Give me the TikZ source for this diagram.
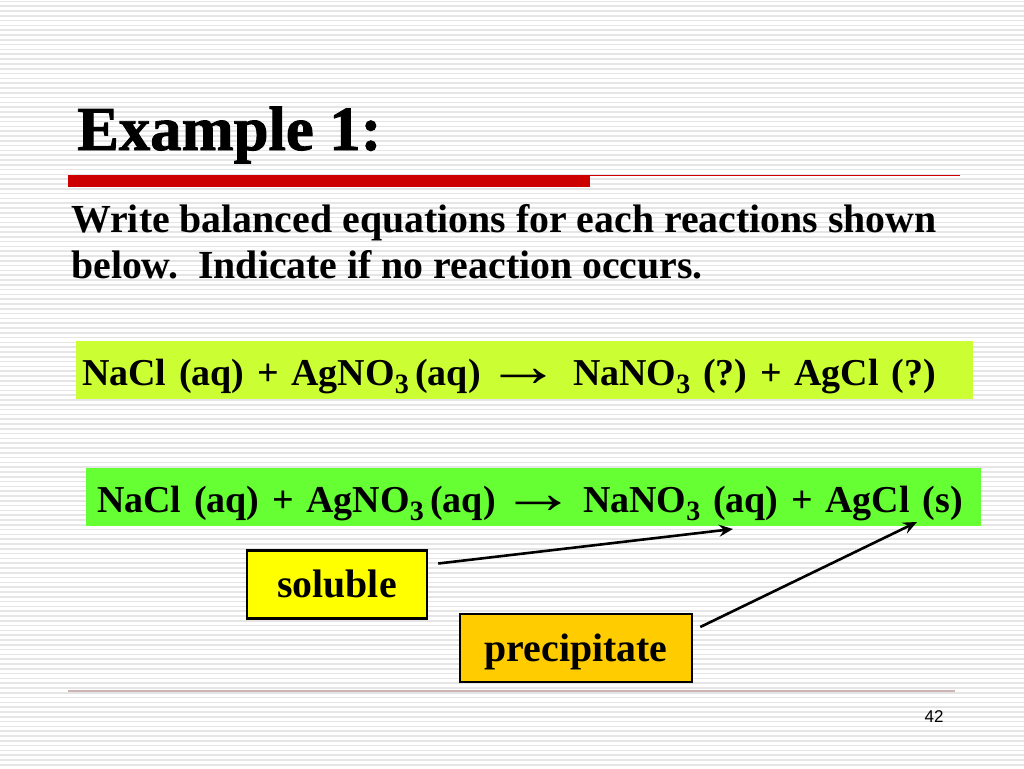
\documentclass[tikz,border=0pt]{standalone}
\usepackage{fontspec}
\setmainfont{Liberation Serif}
\newfontfamily\titlefont{Liberation Serif}[BoldFeatures={FakeBold=1.5}]
\newfontfamily\numfont{Liberation Sans}
\usepackage{xcolor}
\usepackage{tikz}
\usetikzlibrary{arrows.meta,positioning}
\frenchspacing

\definecolor{slidered}{RGB}{204,0,0}
\definecolor{stripegray}{RGB}{229,229,229}
\definecolor{limeA}{RGB}{204,255,51}
\definecolor{limeB}{RGB}{102,255,51}
\definecolor{solyellow}{RGB}{255,255,0}
\definecolor{precgold}{RGB}{255,204,0}
\definecolor{footline}{RGB}{205,180,180}

\newcommand{\chemsub}[1]{\raisebox{-8pt}{\fontsize{28}{28}\selectfont #1}}
\newcommand{\yields}{\hspace{5pt}\raisebox{-1pt}{\scalebox{2.0}[1.6]{\mdseries →}}}

\begin{document}
\begin{tikzpicture}[
    x=1pt, y=-1pt,
    stripe/.style={draw=stripegray, line width=1.6pt},
    bodytxt/.style={anchor=base west, inner sep=0pt,
                    font=\fontsize{39.8}{46}\selectfont\bfseries},
    eqcell/.style={anchor=north west, inner ysep=0pt, outer sep=0pt,
                   text height=44pt, text depth=14pt, align=left,
                   font=\fontsize{38}{46}\selectfont\bfseries},
    tag/.style={rectangle, draw=black, line width=2.5pt, inner sep=0pt,
                text height=47pt, text depth=21pt, minimum width=180pt,
                font=\fontsize{39.8}{46}\selectfont\bfseries},
    pointer/.style={line width=2.6pt, -{Stealth[length=14pt,width=12pt,inset=5pt]}},
  ]
  % Background
  \fill[white] (0,0) rectangle (1024,768);
  \useasboundingbox (0,0) rectangle (1024,768);
  \foreach \k in {0,...,159}
    \draw[stripe] (0,{4.8*\k+1.5}) -- (1024,{4.8*\k+1.5});

  % Title and rules
  \node[anchor=base west, inner sep=0pt,
        font=\titlefont\bfseries\fontsize{62.6}{70}\selectfont] (ttl) at (77,150) {Example 1:};
  \fill[slidered] (68,175) rectangle (590,187);
  \draw[slidered, line width=1.2pt] (590,175.6) -- (960,175.6);
  \draw[footline, line width=1.2pt] (68,691) -- (955,691);

  % Task
  \node[bodytxt] (ln1) at (71,232) {Write balanced equations for each reactions shown};
  \node[bodytxt] (ln2) at (71,278) {below.\ \ Indicate if no reaction occurs.};

  % Equations
  \node[eqcell, fill=limeA, inner xsep=6pt, text width=472pt] (q1l) at (76,341)
    {\mbox{NaCl (aq) + AgNO\chemsub{3}\,(aq)\yields}};
  \node[eqcell, fill=limeA, inner xsep=13pt, text width=387pt, anchor=west,
        right=0pt of q1l] (q1r)
    {\mbox{NaNO\chemsub{3} (?) + AgCl (?)}};
  \node[eqcell, fill=limeB, inner xsep=11pt, text width=463pt] (q2l) at (86,468)
    {\mbox{NaCl (aq) + AgNO\chemsub{3}\,(aq)\yields}};
  \node[eqcell, fill=limeB, inner xsep=12pt, text width=386pt, anchor=west,
        right=0pt of q2l] (q2r)
    {\mbox{NaNO\chemsub{3} (aq) + AgCl (s)}};

  % Labels
  \node[tag, fill=solyellow] (sol) at (337,584.5) {soluble};
  \node[tag, fill=precgold, minimum width=232pt] (prc) at (576,648) {precipitate};

  % Pointers
  \coordinate (aqpt) at (733,529);
  \coordinate (spt) at (917,522);
  \draw[pointer] ([xshift=10pt,yshift=21pt]sol.east) -- (aqpt);
  \draw[pointer] ([xshift=7pt,yshift=21pt]prc.east) -- (spt);

  % Page number
  \node[anchor=base, inner sep=0pt, font=\numfont\fontsize{17}{20}\selectfont] (pg) at (934,722) {42};
\end{tikzpicture}
\end{document}
